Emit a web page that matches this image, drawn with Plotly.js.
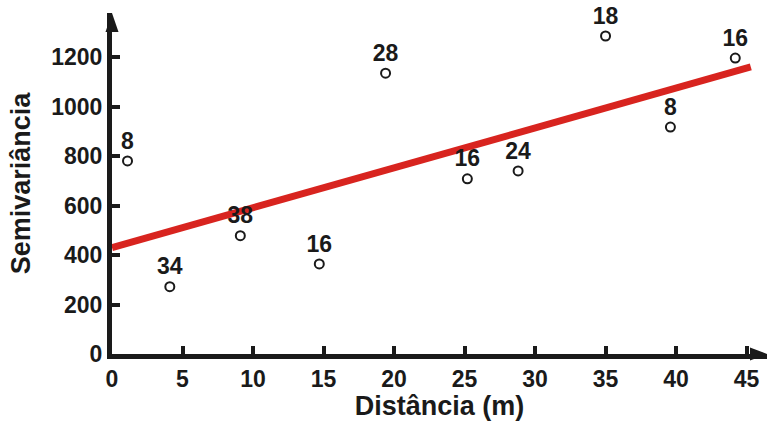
<!DOCTYPE html>
<html>
<head>
<meta charset="utf-8">
<script src="https://cdn.plot.ly/plotly-3.0.1.min.js"></script>
<style>html,body{margin:0;padding:0;background:#fff;}#chart{width:768px;height:421px;}</style>
</head>
<body>
<div id="chart"></div>
<script>
// Data
const distancia = [1.1, 4.1, 9.1, 14.7, 19.4, 25.2, 28.8, 35.0, 39.6, 44.2];
const semivariancia = [780, 272, 478, 364, 1135, 708, 740, 1285, 917, 1196];
const pares = ['8', '34', '38', '16', '28', '16', '24', '18', '8', '16'];
const linhaX = [0, 45.3];
const linhaY = [430, 1160];
const xTicks = [0, 5, 10, 15, 20, 25, 30, 35, 40, 45];
const yTicks = [0, 200, 400, 600, 800, 1000, 1200];

const FONT = 'Liberation Sans, Arial, Helvetica, sans-serif';
const INK = '#1a1a1a';

const traces = [
  {
    x: linhaX, y: linhaY, mode: 'lines', type: 'scatter',
    line: {color: '#d8241f', width: 7},
    hoverinfo: 'skip', cliponaxis: false
  },
  {
    x: distancia, y: semivariancia, mode: 'markers+text', type: 'scatter',
    text: pares, textposition: 'top center',
    textfont: {family: FONT, size: 23, color: INK, weight: 'bold'},
    marker: {symbol: 'circle-open', size: 9, color: INK, line: {width: 2, color: INK}},
    cliponaxis: false
  }
];

const W = 655, H = 341;
const layout = {
  width: 768, height: 421,
  margin: {l: 112, r: 1, t: 13, b: 67},
  paper_bgcolor: '#fff', plot_bgcolor: '#fff',
  showlegend: false, hovermode: false,
  font: {family: FONT, color: INK},
  xaxis: {
    range: [0, 46.45], tickvals: xTicks, ticktext: xTicks.map(String),
    showgrid: false, zeroline: false,
    showline: true, linewidth: 5, linecolor: INK,
    ticks: 'inside', ticklen: 8, tickwidth: 4, tickcolor: INK,
    tickfont: {family: FONT, size: 23, color: INK, weight: 'bold'},
    title: {text: 'Distância (m)', font: {family: FONT, size: 27, color: INK, weight: 'bold'}}
  },
  yaxis: {
    range: [0, 1378], tickvals: yTicks, ticktext: yTicks.map(String),
    showgrid: false, zeroline: false,
    showline: true, linewidth: 5, linecolor: INK,
    ticks: 'inside', ticklen: 8, tickwidth: 4, tickcolor: INK,
    tickfont: {family: FONT, size: 23, color: INK, weight: 'bold'},
    title: {text: 'Semivariância', standoff: 14, font: {family: FONT, size: 27, color: INK, weight: 'bold'}}
  },
  shapes: [
    {type: 'path', xref: 'paper', yref: 'paper', fillcolor: INK, line: {width: 0},
     path: 'M 1 0 L ' + (1 - 17 / W) + ' ' + (6.5 / H) + ' L ' + (1 - 17 / W) + ' ' + (-6.5 / H) + ' Z'},
    {type: 'path', xref: 'paper', yref: 'paper', fillcolor: INK, line: {width: 0},
     path: 'M 0 1 L ' + (-6.5 / W) + ' ' + (1 - 19 / H) + ' L ' + (6.5 / W) + ' ' + (1 - 19 / H) + ' Z'}
  ]
};

Plotly.newPlot('chart', traces, layout, {displayModeBar: false, staticPlot: true});
</script>
</body>
</html>
